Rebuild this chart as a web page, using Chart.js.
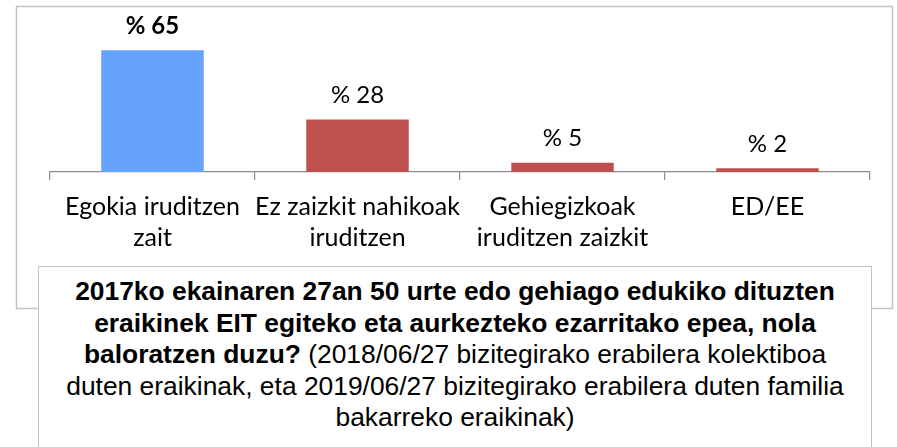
<!DOCTYPE html>
<html>
<head>
<meta charset="utf-8">
<script src="https://cdn.jsdelivr.net/npm/chart.js@4.4.1/dist/chart.umd.min.js"></script>
<style>
  html, body { margin: 0; padding: 0; background: #fff; overflow: hidden; }
  #marco { position: relative; width: 897px; height: 447px; }
  #titulua {
    position: absolute; left: 38px; top: 266px; width: 834px; height: 220px;
    box-sizing: border-box; background: #fff; border: 1.5px solid #c3c3c3;
    font-family: Arial, "Liberation Sans", sans-serif; font-size: 26.4px;
    line-height: 31.5px; text-align: center; color: #000; padding-top: 9px;
    white-space: nowrap;
  }
</style>
</head>
<body>
<div id="marco">
  <canvas id="grafikoa"></canvas>
  <div id="titulua"><b>2017ko ekainaren 27an 50 urte edo gehiago edukiko dituzten<br>eraikinek EIT egiteko eta aurkezteko ezarritako epea, nola<br>baloratzen duzu?</b> (2018/06/27 bizitegirako erabilera kolektiboa<br>duten eraikinak, eta 2019/06/27 bizitegirako erabilera duten familia<br>bakarreko eraikinak)</div>
</div>
<script>
// Erantzunak (kategoriak) eta ehunekoak
const kategoriak = [
  ['Egokia iruditzen', 'zait'],
  ['Ez zaizkit nahikoak', 'iruditzen'],
  ['Gehiegizkoak', 'iruditzen zaizkit'],
  ['ED/EE'],
];
const ehunekoak = [65, 28, 5, 2];

// lehen barra urdinez eta etiketa lodiz
const nabarmendua = 0;
const koloreak = ehunekoak.map((v, i) => (i === nabarmendua ? '#66a3ff' : '#c0504d'));

const letra = 'Lato';

// kanpoko markoa
const markoa = {
  id: 'markoa',
  beforeDraw(chart) {
    const ctx = chart.ctx;
    ctx.save();
    ctx.fillStyle = '#fff';
    ctx.fillRect(0, 0, chart.width, chart.height);
    ctx.strokeStyle = '#c3c3c3';
    ctx.lineWidth = 1.5;
    ctx.strokeRect(16.5, 6.5, 876, 302);
    ctx.restore();
  },
};

// balioen etiketak barren gainean
const etiketak = {
  id: 'etiketak',
  afterDatasetsDraw(chart) {
    const ctx = chart.ctx;
    const meta = chart.getDatasetMeta(0);
    ctx.save();
    ctx.textAlign = 'center';
    ctx.textBaseline = 'middle';
    ctx.fillStyle = '#000';
    meta.data.forEach((barra, i) => {
      ctx.font = (i === nabarmendua ? 'bold ' : '') + '24px ' + letra;
      ctx.fillText('% ' + ehunekoak[i], barra.x, barra.y - 24);
    });
    ctx.restore();
  },
};

const grafikoa = new Chart(document.getElementById('grafikoa'), {
  type: 'bar',
  data: {
    labels: kategoriak,
    datasets: [
      {
        data: ehunekoak,
        backgroundColor: koloreak,
        borderWidth: 0,
        barPercentage: 0.5,
        categoryPercentage: 1,
      },
    ],
  },
  options: {
    responsive: true,
    maintainAspectRatio: false,
    animation: false,
    layout: { padding: { left: 50, right: 27, top: 22, bottom: 0 } },
    plugins: {
      legend: { display: false },
      tooltip: { enabled: false },
    },
    scales: {
      y: { display: false, min: 0, max: 80 },
      x: {
        afterFit: (scale) => { scale.height = 275; },
        border: { display: true, color: '#8a8a8a', width: 1.2 },
        grid: {
          offset: true,
          drawOnChartArea: false,
          drawTicks: true,
          tickLength: 8,
          color: '#8a8a8a',
          lineWidth: 1.2,
        },
        ticks: {
          color: '#000',
          padding: 11,
          maxRotation: 0,
          autoSkip: false,
          font: { family: letra, size: 25, lineHeight: 1.24 },
        },
      },
    },
  },
  plugins: [markoa, etiketak],
});
</script>
</body>
</html>
